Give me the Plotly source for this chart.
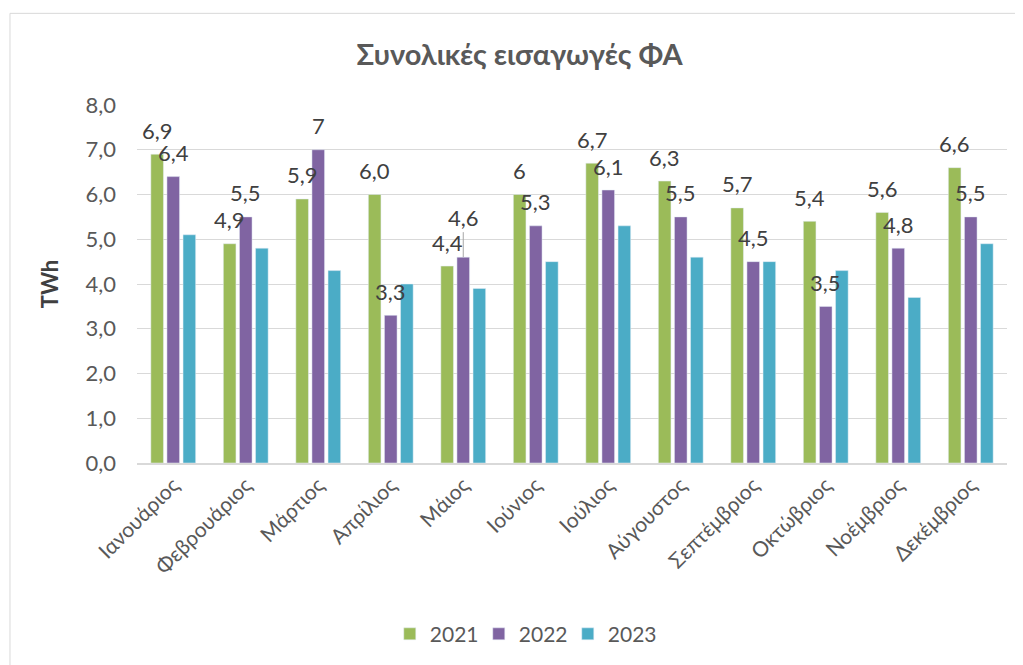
import plotly.graph_objects as go

# Data
months = ["Ιανουάριος", "Φεβρουάριος", "Μάρτιος", "Απρίλιος", "Μάιος", "Ιούνιος",
          "Ιούλιος", "Αύγουστος", "Σεπτέμβριος", "Οκτώβριος", "Νοέμβριος", "Δεκέμβριος"]
years = ["2021", "2022", "2023"]
v2021 = [6.9, 4.9, 5.9, 6.0, 4.4, 6.0, 6.7, 6.3, 5.7, 5.4, 5.6, 6.6]
v2022 = [6.4, 5.5, 7.0, 3.3, 4.6, 5.3, 6.1, 5.5, 4.5, 3.5, 4.8, 5.5]
v2023 = [5.1, 4.8, 4.3, 4.0, 3.9, 4.5, 5.3, 4.6, 4.5, 4.3, 3.7, 4.9]
lbl2021 = ["6,9", "4,9", "5,9", "6,0", "4,4", "6", "6,7", "6,3", "5,7", "5,4", "5,6", "6,6"]
lbl2022 = ["6,4", "5,5", "7", "3,3", "4,6", "5,3", "6,1", "5,5", "4,5", "3,5", "4,8", "5,5"]

colors = ["#9BBB59", "#8064A2", "#4BACC6"]
FONT = "Lato"
TXT = "#595959"

fig = go.Figure()
for name, vals, c in zip(years, [v2021, v2022, v2023], colors):
    fig.add_trace(go.Bar(x=months, y=vals, name=name, marker_color=c))

# data labels (only 2021 and 2022 are labelled)
slot = 16.1  # px between bars in a group
annotations = []
for k, (vals, lbls) in enumerate([(v2021, lbl2021), (v2022, lbl2022)]):
    for m, v, t in zip(months, vals, lbls):
        a = dict(x=m, y=v, xref="x", yref="y", text=t, xshift=(k - 1) * slot,
                 font=dict(family=FONT, size=22, color="#404040"))
        if k == 1 and m == "Μάιος":
            # label moved up with a leader line
            a.update(showarrow=True, ax=0, ay=-40, arrowhead=0, arrowwidth=1,
                     arrowcolor="#a6a6a6", standoff=0)
        else:
            a.update(showarrow=False, yanchor="middle", yshift=24)
        annotations.append(a)

# page body has an 8px margin, so the figure is laid out 8px in from the window edge
fig.update_layout(
    width=1015, height=657,
    margin=dict(l=129, r=16, t=97, b=201),
    paper_bgcolor="white", plot_bgcolor="white",
    separators=", ",
    font=dict(family=FONT, color=TXT),
    title=dict(text="<b>Συνολικές εισαγωγές ΦΑ</b>", x=0.504, xanchor="center",
               y=0.928, yanchor="middle", font=dict(size=29, color=TXT)),
    bargap=0.334, bargroupgap=0.217,
    legend=dict(orientation="h", x=0.444, xanchor="center", y=-0.474, yanchor="middle",
                font=dict(size=21, color=TXT), itemwidth=30,
                entrywidth=44, entrywidthmode="pixels"),
    annotations=annotations,
    shapes=[dict(type="rect", xref="paper", yref="paper",
                 x0=-0.146, x1=1.03, y0=-0.58, y1=1.256,
                 line=dict(color="#d9d9d9", width=1))],
)
fig.update_yaxes(range=[0, 8], dtick=1, tickformat=".1f", showgrid=True,
                 gridcolor="#d9d9d9", gridwidth=1, zeroline=False,
                 tickfont=dict(size=22, color=TXT), ticks="", ticklabelstandoff=20,
                 title=dict(text="<b>TWh</b>", font=dict(size=22, color="#404040"), standoff=20))
fig.update_xaxes(tickangle=-45, tickfont=dict(size=21, color=TXT), showline=True,
                 linecolor="#d9d9d9", linewidth=1.5, ticks="")

fig.write_html("out.html")
